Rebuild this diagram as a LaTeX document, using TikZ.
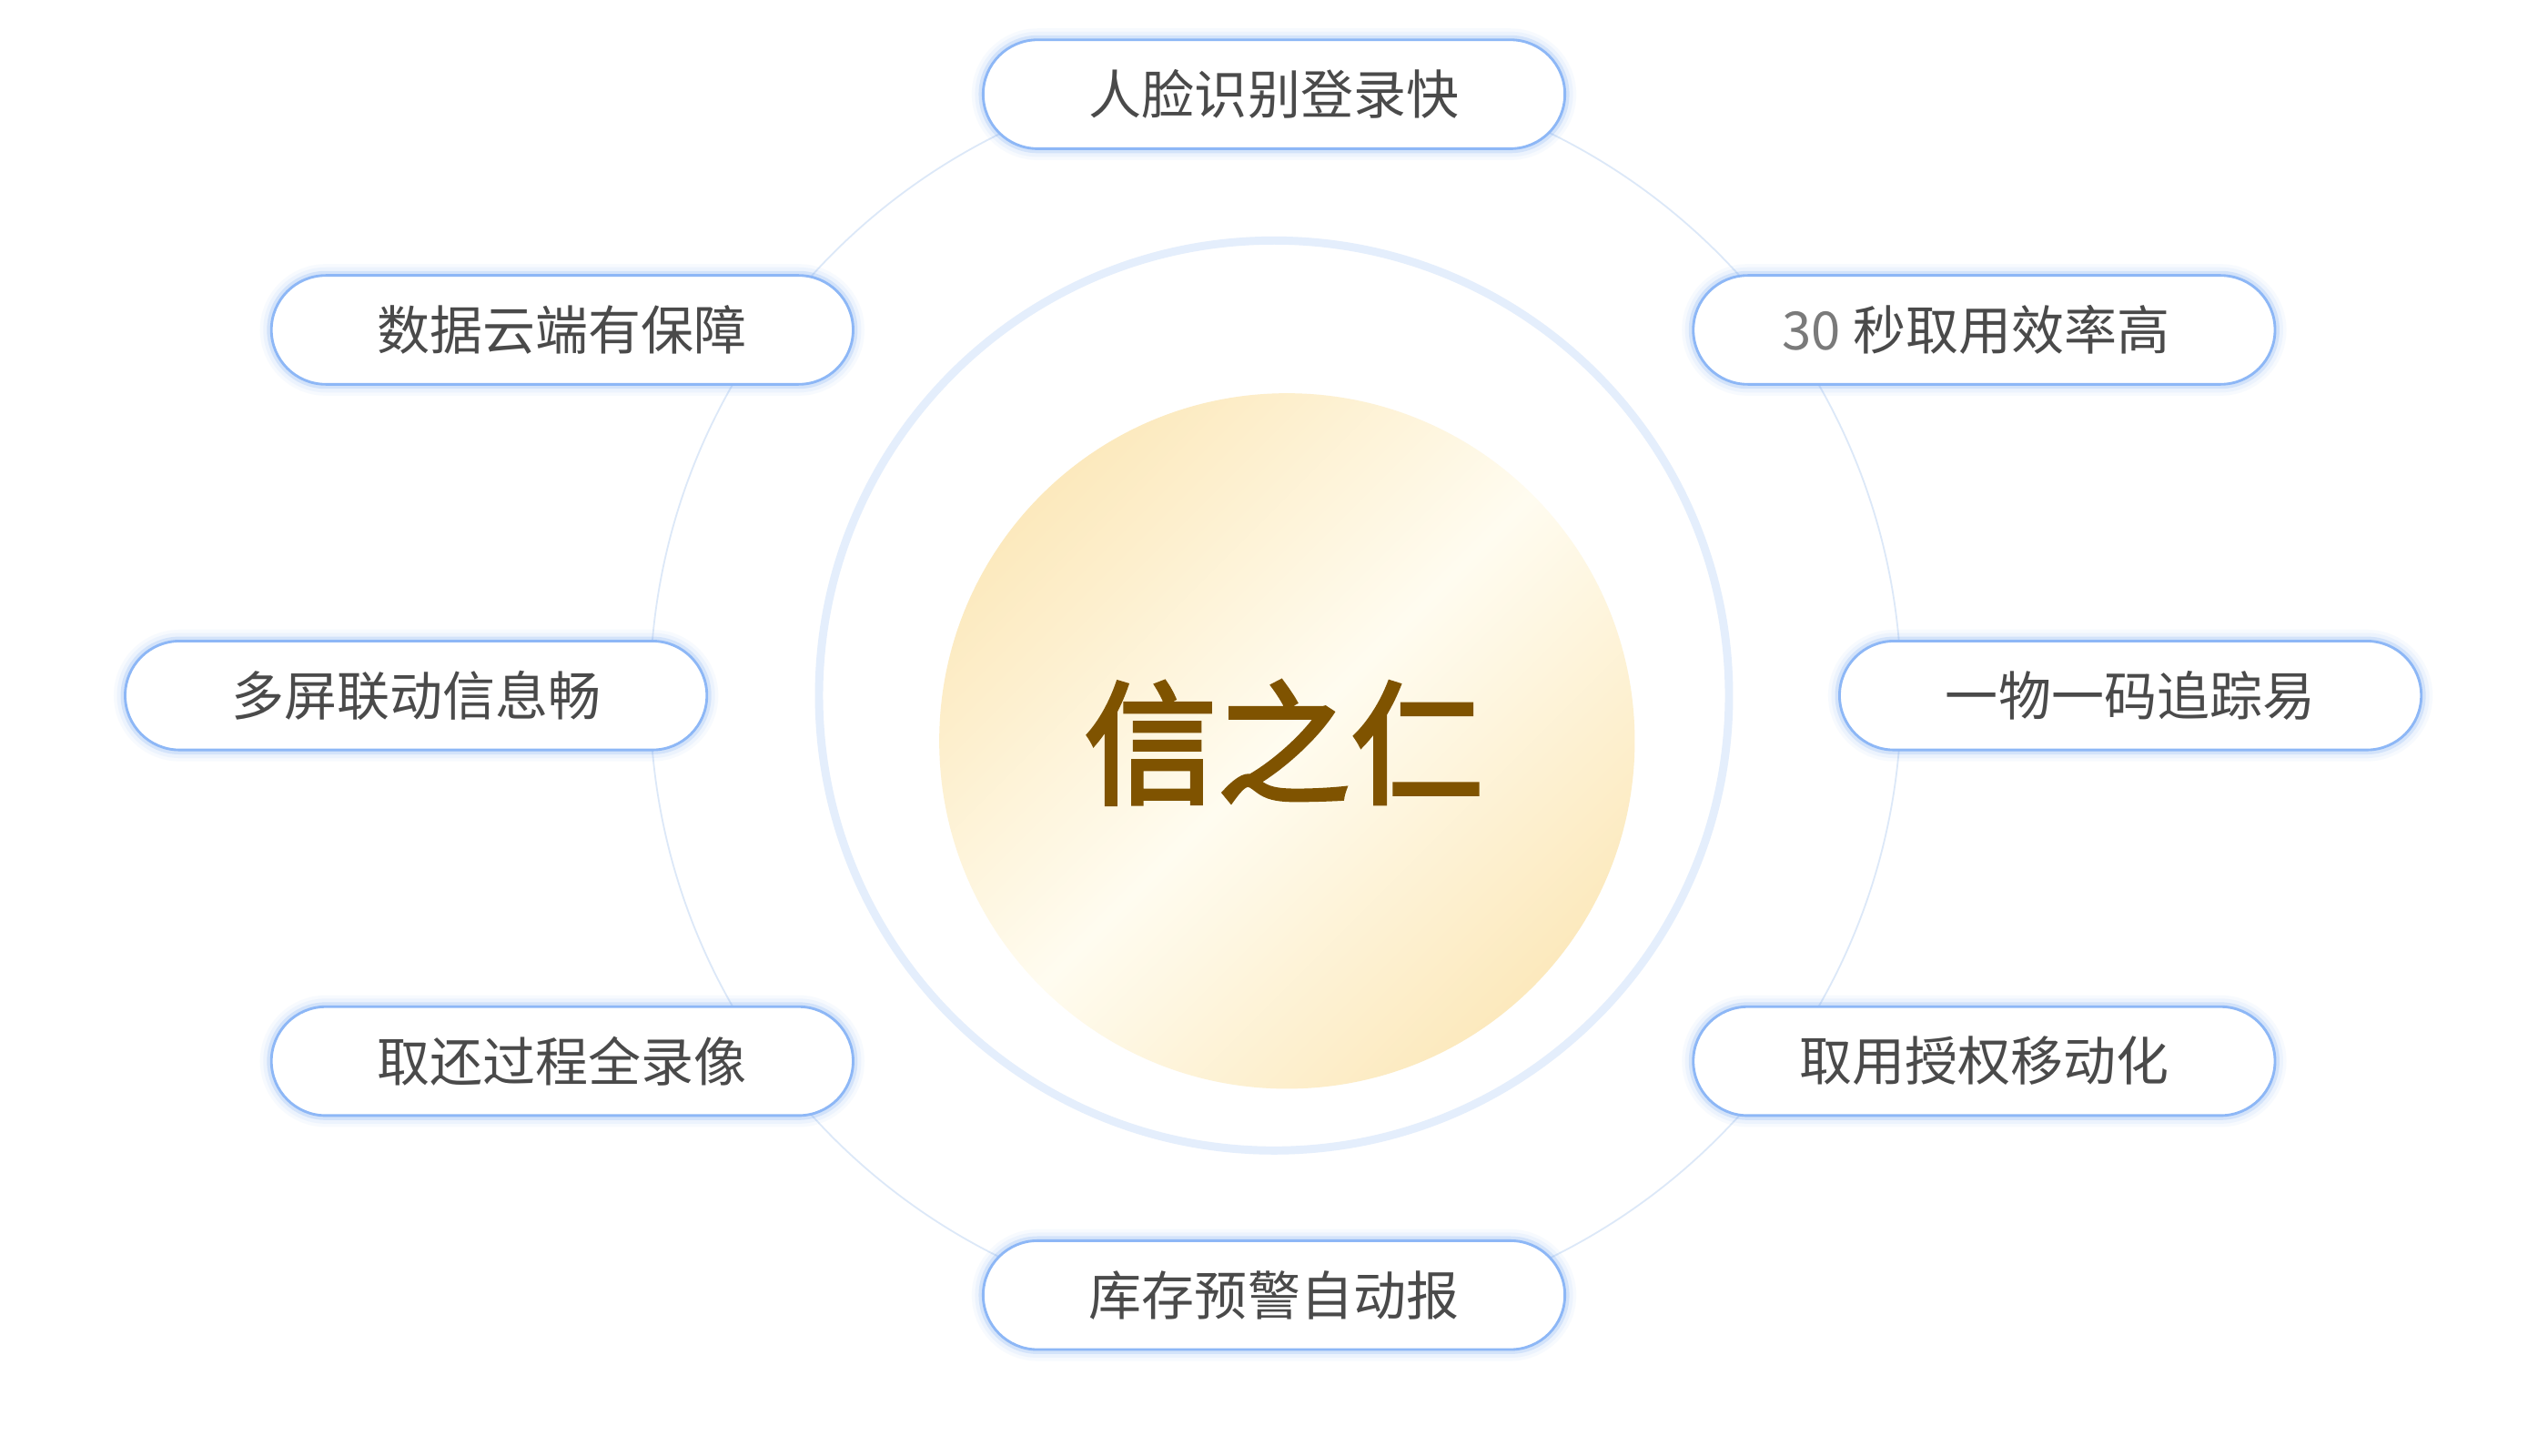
\documentclass[tikz,border=0pt]{standalone}
\usepackage{fontspec}
\newfontfamily\cjk{Noto Sans CJK SC}
\newfontfamily\cjktitle{Noto Sans CJK SC}[FakeBold=2.8]
\definecolor{pillblue}{HTML}{8DB7F6}
\definecolor{glowblue}{HTML}{6FA4F2}
\definecolor{thinblue}{HTML}{DCE8F8}
\definecolor{ringblue}{HTML}{E4EEFC}
\definecolor{txt}{HTML}{4A4A4A}
\definecolor{numgray}{HTML}{7A7A7A}
\definecolor{goldA}{HTML}{FCE9BD}
\definecolor{goldW}{HTML}{FFFCF0}
\definecolor{brown}{HTML}{7F5300}
\tikzset{
  pill/.style={draw=pillblue, line width=1.6pt, fill=white,
    rounded corners=33.5pt, minimum width=358pt, minimum height=67pt,
    inner sep=0pt, text=txt, font=\cjk\fontsize{32.5}{38}\selectfont,
    preaction={draw=glowblue, line width=14pt, draw opacity=.05},
    preaction={draw=glowblue, line width=10pt, draw opacity=.08},
    preaction={draw=glowblue, line width=5.5pt, draw opacity=.2}},
  title/.style={text=brown, font=\cjktitle\fontsize{82}{90}\selectfont, inner sep=0pt}
}
\begin{document}
\begin{tikzpicture}[x=1pt,y=-1pt]
\useasboundingbox (0,0) rectangle (1568,896);
\fill[white] (0,0) rectangle (1568,896);
% thin outer circle
\draw[thinblue, line width=1pt] (785,428) circle (385);
% ring
\draw[ringblue, line width=5pt] (784,428) circle (280);
% gold disc
\shade[top color=goldA, bottom color=goldA, middle color=goldW, shading angle=45] (792,456) circle (214);
\node[title] (core) at (790,457) {信之仁};
% pills
\node[pill] (p1) at (784,58) {人脸识别登录快};
\node[pill] (p2) at (346,203) {数据云端有保障};
\node[pill] (p3) at (1221,203) {\textcolor{numgray}{30} 秒取用效率高\kern10pt};
\node[pill] (p4) at (256,428) {多屏联动信息畅};
\node[pill] (p5) at (1311,428) {一物一码追踪易};
\node[pill] (p6) at (346,653) {取还过程全录像};
\node[pill] (p7) at (1221,653) {取用授权移动化};
\node[pill] (p8) at (784,797) {库存预警自动报};
\end{tikzpicture}
\end{document}
